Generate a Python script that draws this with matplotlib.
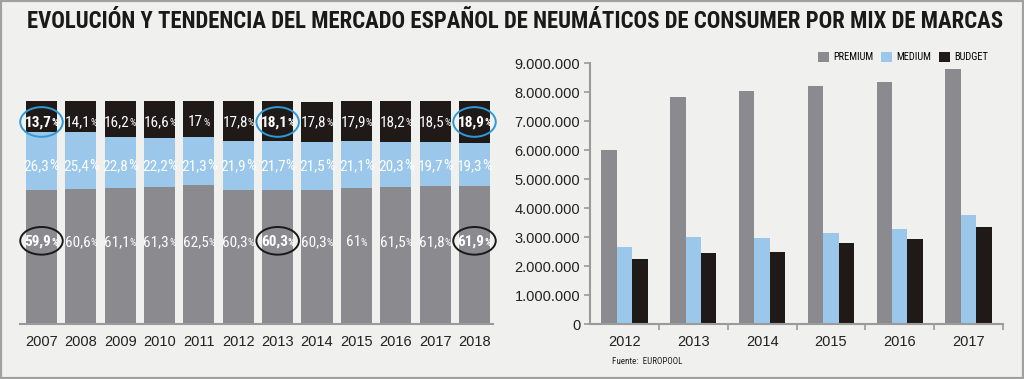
import numpy as np
import matplotlib
matplotlib.use('Agg')
import matplotlib.pyplot as plt
from matplotlib import font_manager
from matplotlib.patches import Ellipse, Rectangle
from matplotlib.offsetbox import TextArea, HPacker, AnnotationBbox
from matplotlib.ticker import FuncFormatter, FixedLocator

# datos: cuota por mix de marcas (%)
years = ['2007', '2008', '2009', '2010', '2011', '2012',
         '2013', '2014', '2015', '2016', '2017', '2018']
premium_pct = [59.9, 60.6, 61.1, 61.3, 62.5, 60.3, 60.3, 60.3, 61, 61.5, 61.8, 61.9]
medium_pct = [26.3, 25.4, 22.8, 22.2, 21.3, 21.9, 21.7, 21.5, 21.1, 20.3, 19.7, 19.3]
budget_pct = [13.7, 14.1, 16.2, 16.6, 17, 17.8, 18.1, 17.8, 17.9, 18.2, 18.5, 18.9]
highlight = ['2007', '2013', '2018']

# datos: unidades vendidas
unit_years = ['2012', '2013', '2014', '2015', '2016', '2017']
premium_units = [6.0e6, 7.85e6, 8.04e6, 8.2e6, 8.35e6, 8.79e6]
medium_units = [2.67e6, 2.99e6, 2.98e6, 3.15e6, 3.28e6, 3.76e6]
budget_units = [2.25e6, 2.45e6, 2.5e6, 2.78e6, 2.92e6, 3.35e6]

GRAY = '#8b8a8f'
BLUE = '#9bc8ea'
BLACK = '#1f1a18'
BG = '#f0f0ee'

installed = {f.name for f in font_manager.fontManager.ttflist}
narrow = 'Liberation Sans'
for cand in ['Liberation Sans Narrow', 'Roboto Condensed', 'Open Sans Condensed']:
    if cand in installed:
        narrow = cand
        break
plt.rcParams['font.family'] = ['Liberation Sans', 'DejaVu Sans']


def fmt_pct(v):
    return f'{v:g}'.replace('.', ',')


fig = plt.figure(figsize=(10.24, 3.79), dpi=100, facecolor=BG)

# ---- grafico izquierdo: barras apiladas ----
ax1 = fig.add_axes([20 / 1024, 55 / 379, 473 / 1024, 223 / 379])
ax1.set_facecolor(BG)
x = np.arange(len(years))
w = 0.79
ax1.bar(x, premium_pct, w, color=GRAY)
ax1.bar(x, medium_pct, w, bottom=premium_pct, color=BLUE)
ax1.bar(x, budget_pct, w, bottom=np.array(premium_pct) + np.array(medium_pct), color=BLACK)
ax1.set_ylim(0, 100)
ax1.set_xlim(-0.546, 11.47)
ax1.set_xticks(x)
ax1.set_xticklabels(years)
ax1.tick_params(axis='x', length=0, labelsize=10.5, pad=8, colors='#222222')
ax1.set_yticks([])
for s in ['left', 'right', 'top']:
    ax1.spines[s].set_visible(False)
ax1.spines['bottom'].set_color('#9a9a9a')
ax1.spines['bottom'].set_linewidth(1.5)


def pct_label(ax, xi, yi, num, small_pct, bold):
    wt = 'bold' if bold else 'normal'
    t1 = TextArea(num, textprops=dict(color='white', fontsize=11, family=narrow, weight=wt))
    t2 = TextArea('%', textprops=dict(color='white', fontsize=7.5 if small_pct else 11,
                                      family=narrow, weight=wt))
    box = HPacker(children=[t1, t2], align='baseline', pad=0, sep=0)
    ab = AnnotationBbox(box, (xi, yi), xycoords='data', frameon=False,
                        box_alignment=(0.5, 0.5), pad=0, annotation_clip=False)
    ax.add_artist(ab)


for i, yr in enumerate(years):
    hl = yr in highlight
    pct_label(ax1, i, 90.4, fmt_pct(budget_pct[i]), True, hl)
    pct_label(ax1, i, 70.9, fmt_pct(medium_pct[i]), False, False)
    pct_label(ax1, i, 36.8, fmt_pct(premium_pct[i]), True, hl)
    if hl:
        ax1.add_patch(Ellipse((i, 90.6), 1.08, 13.3, fill=False, ec='#2e9bd6', lw=1.4, clip_on=False))
        ax1.add_patch(Ellipse((i, 37.3), 1.08, 12.4, fill=False, ec='#1a1a1a', lw=1.4, clip_on=False))

# ---- grafico derecho: unidades ----
ax2 = fig.add_axes([590 / 1024, 55 / 379, 413 / 1024, 260.7 / 379])
ax2.set_facecolor(BG)
xu = np.arange(len(unit_years))
bw = 0.225
ax2.bar(xu - bw, premium_units, bw, color=GRAY, label='PREMIUM')
ax2.bar(xu, medium_units, bw, color=BLUE, label='MEDIUM')
ax2.bar(xu + bw, budget_units, bw, color=BLACK, label='BUDGET')
ax2.set_xlim(-0.5, 5.5)
ax2.set_ylim(0, 9e6)
ax2.set_yticks(np.arange(0, 9.5e6, 1e6))
ax2.yaxis.set_major_formatter(FuncFormatter(lambda v, p: f'{int(v):,}'.replace(',', '.')))
ax2.set_xticks(xu)
ax2.set_xticklabels(unit_years)
ax2.xaxis.set_minor_locator(FixedLocator(np.arange(0.5, 6, 1)))
ax2.tick_params(axis='x', which='major', length=0, labelsize=10.5, pad=8, colors='#222222')
ax2.tick_params(axis='x', which='minor', length=4, width=1.2, color='#9a9a9a')
ax2.tick_params(axis='y', length=4, width=1.2, color='#9a9a9a', labelsize=10.5, pad=3,
                labelcolor='#222222')
for s in ['right', 'top']:
    ax2.spines[s].set_visible(False)
for s in ['left', 'bottom']:
    ax2.spines[s].set_color('#9a9a9a')
    ax2.spines[s].set_linewidth(1.5)

leg = ax2.legend(loc='center right', bbox_to_anchor=(0.972, 0.85), bbox_transform=fig.transFigure,
                 ncol=3, frameon=False, handlelength=1.1, handleheight=1.1, handletextpad=0.4,
                 columnspacing=0.7, borderpad=0.2, prop={'family': narrow, 'size': 7.5})

fig.text(27 / 1024, 1 - 22 / 379,
         'EVOLUCIÓN Y TENDENCIA DEL MERCADO ESPAÑOL DE NEUMÁTICOS DE CONSUMER POR MIX DE MARCAS',
         fontsize=16.4, weight='bold', family=narrow, color='#1a1a1a', va='center', ha='left')
fig.text(612 / 1024, 1 - 362 / 379, 'Fuente:  EUROPOOL', fontsize=6.5, family=narrow,
         color='#222222', va='center', ha='left')

fig.patches.append(Rectangle((0, 0), 1, 1, transform=fig.transFigure, fill=False,
                             ec='#a0a0a0', lw=3, figure=fig))

fig.savefig('out.png', dpi=100, facecolor=BG)
